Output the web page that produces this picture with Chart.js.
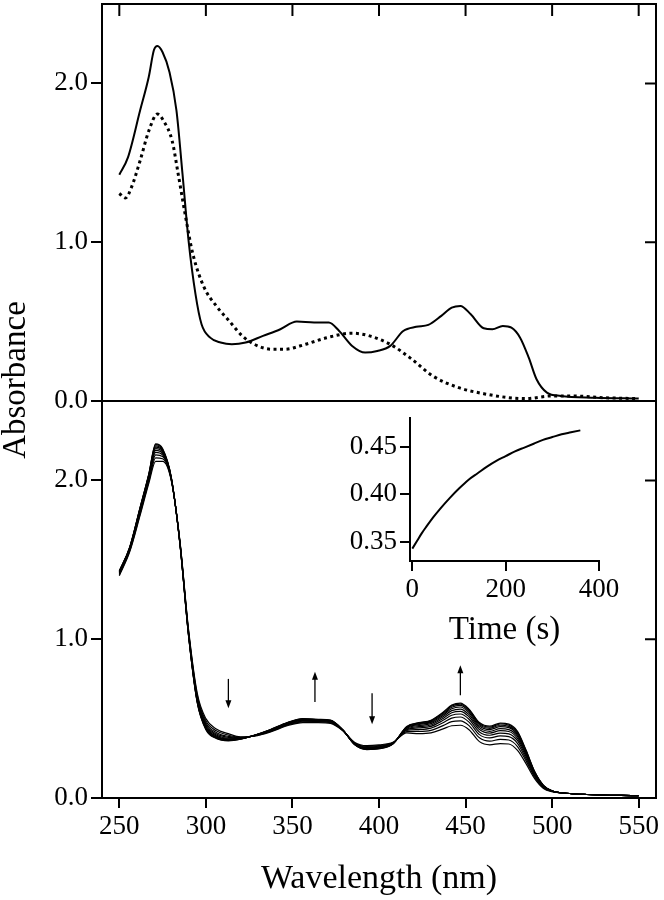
<!DOCTYPE html>
<html>
<head>
<meta charset="utf-8">
<title>Absorbance</title>
<script src="https://cdn.jsdelivr.net/npm/chart.js@4.4.1/dist/chart.umd.min.js"></script>
<style>
  body { margin: 0; background: #fff; }
  #wrap { position: relative; width: 664px; height: 900px; }
  #grafico { position: absolute; left: 0; top: 0; }
  #inset { position: absolute; left: 300px; top: 400px; }
</style>
</head>
<body>
<div id="wrap">
  <canvas id="grafico" width="664" height="900"></canvas>
  <canvas id="inset" width="330" height="260"></canvas>
</div>
<script>
// painel de cima: espectro final (linha cheia) e inicial (pontilhado)
const wlSolid = [250, 255, 262, 267, 270, 272, 275, 279, 283, 286.5, 290, 294, 297.5, 302.5, 308.5, 315, 323, 333, 343, 352.5, 362.5, 371, 377, 384.5, 392, 399, 406.5, 414, 421.5, 428.5, 436, 442, 447, 453, 460.5, 465.5, 471.5, 476.5, 481.5, 486.5, 491, 497, 505, 525, 550]
const absSolid = [1.425, 1.534, 1.829, 2.04, 2.21, 2.235, 2.196, 2.07, 1.83, 1.43, 1.01, 0.673, 0.483, 0.399, 0.368, 0.357, 0.368, 0.41, 0.452, 0.50, 0.494, 0.494, 0.441, 0.347, 0.305, 0.315, 0.347, 0.441, 0.467, 0.479, 0.536, 0.588, 0.599, 0.546, 0.458, 0.452, 0.473, 0.462, 0.399, 0.273, 0.137, 0.053, 0.032, 0.021, 0.015]

const wlDotted = [250, 253.5, 257, 262, 267, 272, 275.5, 280.5, 284, 288, 292.5, 299, 306, 313.5, 321, 328, 338, 345.5, 357.5, 370, 384.5, 394.5, 406.5, 419, 431, 446, 460.5, 475, 485, 500, 512, 529, 550]
const absDotted = [1.307, 1.278, 1.345, 1.513, 1.70, 1.807, 1.765, 1.639, 1.43, 1.177, 0.925, 0.715, 0.599, 0.504, 0.41, 0.357, 0.326, 0.326, 0.357, 0.399, 0.427, 0.41, 0.357, 0.263, 0.158, 0.084, 0.046, 0.021, 0.015, 0.032, 0.032, 0.021, 0.015]

// painel de baixo: espectros ao longo do tempo
const wlB = [250, 256, 262, 267, 271, 275, 280, 285, 290, 295, 300, 306, 313, 320, 328, 337, 347, 356, 365, 372, 379, 386, 393, 400, 408, 416, 423, 430, 437, 442, 447, 452, 458, 464, 470, 475, 480, 485, 490, 495, 500, 508, 520, 550]
const esp1 = [1.40, 1.55, 1.78, 1.98, 2.12, 2.12, 2.00, 1.62, 1.06, .66, .50, .435, .405, .385, .39, .415, .455, .475, .475, .47, .425, .35, .33, .335, .35, .41, .405, .41, .435, .455, .458, .43, .355, .335, .343, .34, .30, .215, .12, .06, .04, .03, .022, .015]
const esp2 = [1.406, 1.556, 1.79, 1.992, 2.142, 2.136, 2.004, 1.616, 1.052, .648, .486, .423, .396, .382, .391, .418, .459, .48, .479, .474, .426, .347, .325, .33, .348, .418, .419, .426, .456, .481, .486, .456, .379, .358, .369, .365, .324, .232, .129, .064, .041, .03, .022, .015]
const esp3 = [1.411, 1.561, 1.799, 2.002, 2.161, 2.15, 2.007, 1.613, 1.045, .638, .474, .413, .388, .379, .392, .421, .462, .484, .482, .477, .427, .344, .321, .326, .346, .425, .431, .44, .474, .503, .51, .478, .399, .378, .391, .386, .344, .246, .137, .067, .042, .03, .022, .015]
const esp4 = [1.415, 1.565, 1.806, 2.011, 2.176, 2.161, 2.01, 1.61, 1.04, .629, .464, .404, .382, .377, .393, .423, .465, .488, .485, .48, .428, .342, .317, .322, .345, .43, .441, .451, .489, .521, .529, .496, .416, .395, .409, .404, .361, .258, .143, .07, .043, .03, .022, .015]
const esp5 = [1.419, 1.569, 1.812, 2.018, 2.189, 2.17, 2.013, 1.607, 1.035, .622, .456, .397, .377, .376, .393, .424, .468, .491, .488, .483, .428, .341, .314, .319, .344, .435, .449, .46, .501, .537, .546, .512, .431, .409, .424, .419, .376, .269, .148, .073, .043, .03, .022, .015]
const esp6 = [1.422, 1.572, 1.817, 2.024, 2.20, 2.178, 2.015, 1.605, 1.031, .616, .449, .391, .372, .374, .394, .426, .47, .493, .49, .485, .429, .339, .312, .317, .343, .439, .456, .468, .512, .55, .56, .525, .443, .42, .437, .431, .388, .277, .153, .075, .044, .03, .022, .015]
const esp7 = [1.425, 1.575, 1.821, 2.029, 2.21, 2.186, 2.016, 1.604, 1.027, .611, .443, .386, .368, .373, .394, .427, .471, .496, .491, .486, .429, .338, .31, .315, .342, .443, .462, .476, .521, .562, .573, .537, .453, .431, .449, .443, .398, .285, .157, .076, .044, .03, .022, .015]
const esp8 = [1.427, 1.577, 1.825, 2.033, 2.218, 2.191, 2.018, 1.602, 1.024, .607, .438, .382, .365, .372, .394, .428, .473, .497, .493, .488, .429, .337, .308, .313, .341, .446, .467, .481, .528, .571, .583, .546, .462, .439, .458, .451, .407, .291, .16, .078, .044, .03, .022, .015]
const esp9 = [1.429, 1.579, 1.828, 2.037, 2.225, 2.196, 2.019, 1.601, 1.022, .603, .434, .378, .362, .371, .395, .429, .474, .499, .494, .489, .43, .336, .306, .311, .341, .448, .472, .486, .535, .579, .591, .554, .469, .446, .466, .459, .414, .296, .163, .079, .045, .03, .022, .015]
const esp10 = [1.43, 1.58, 1.83, 2.04, 2.23, 2.20, 2.02, 1.60, 1.02, .60, .43, .375, .36, .37, .395, .43, .475, .50, .495, .49, .43, .335, .305, .31, .34, .45, .475, .49, .54, .585, .598, .56, .475, .452, .472, .465, .42, .30, .165, .08, .045, .03, .022, .015]
const espectros = [esp1, esp2, esp3, esp4, esp5, esp6, esp7, esp8, esp9, esp10]

// setas (comprimento de onda, de, para)
const setaWl = [313, 363, 396, 447]
const setaDe = [0.75, 0.605, 0.66, 0.647]
const setaPara = [0.565, 0.795, 0.465, 0.836]

// inset: cinetica
const tempo = [0, 10, 20, 30, 45, 60, 80, 100, 120, 140, 160, 180, 200, 220, 240, 260, 280, 300, 320, 340, 360]
const absTempo = [0.343, 0.351, 0.359, 0.366, 0.376, 0.385, 0.396, 0.406, 0.415, 0.422, 0.429, 0.435, 0.440, 0.445, 0.449, 0.453, 0.457, 0.460, 0.463, 0.465, 0.467]

const xTicks = [250, 300, 350, 400, 450, 500, 550]
const yTicks = [0, 1, 2]
const insetXTicks = [0, 200, 400]
const insetYTicks = [0.35, 0.40, 0.45]

Chart.defaults.font.family = "'Liberation Serif', 'Times New Roman', serif"
Chart.defaults.color = '#000'

const pontos = (xs, ys) => xs.map((x, i) => ({ x: x, y: ys[i] }))

let datasets = []
espectros.forEach(esp => {
  datasets.push({
    data: pontos(wlB, esp), yAxisID: 'yBot',
    borderColor: '#000', borderWidth: 1.2, pointRadius: 0,
    cubicInterpolationMode: 'monotone'
  })
})
datasets.push({
  data: pontos(wlSolid, absSolid), yAxisID: 'yTop',
  borderColor: '#000', borderWidth: 2, pointRadius: 0,
  cubicInterpolationMode: 'monotone'
})
datasets.push({
  data: pontos(wlDotted, absDotted), yAxisID: 'yTop',
  borderColor: '#000', borderWidth: 3, borderDash: [3, 3.5], pointRadius: 0,
  cubicInterpolationMode: 'monotone'
})

function eixoY() {
  return {
    type: 'linear', position: 'left', stack: 'abs', min: 0, max: 2.5,
    afterBuildTicks: s => { s.ticks = yTicks.map(v => ({ value: v })) },
    afterFit: s => {
      s.width = 102
      s.paddingTop = 0
      s.paddingBottom = 0
    },
    grid: { display: true, drawOnChartArea: false, drawTicks: true, tickLength: 11, color: '#000', lineWidth: 2 },
    border: { display: true, color: '#000', width: 2 },
    ticks: { font: { size: 27 }, padding: 3, color: '#000', callback: v => v.toFixed(1) }
  }
}

const moldura = {
  id: 'moldura',
  afterDraw(chart) {
    const { ctx, chartArea: a, scales } = chart
    ctx.save()
    ctx.strokeStyle = '#000'
    ctx.fillStyle = '#000'
    ctx.lineWidth = 2
    ctx.beginPath()
    ctx.moveTo(a.left, a.top)
    ctx.lineTo(a.right, a.top)
    ctx.lineTo(a.right, a.bottom)
    const yDiv = scales.yTop.bottom
    ctx.moveTo(a.left, yDiv)
    ctx.lineTo(a.right, yDiv)
    xTicks.forEach(v => {
      const px = scales.x.getPixelForValue(v)
      ctx.moveTo(px, a.top)
      ctx.lineTo(px, a.top + 12)
    })
    ;[scales.yTop, scales.yBot].forEach(s => {
      yTicks.forEach(v => {
        const py = s.getPixelForValue(v)
        ctx.moveTo(a.right - 11, py)
        ctx.lineTo(a.right, py)
      })
    })
    ctx.stroke()

    ctx.lineWidth = 1.3
    setaWl.forEach((wl, i) => {
      const px = scales.x.getPixelForValue(wl)
      const y0 = scales.yBot.getPixelForValue(setaDe[i])
      const y1 = scales.yBot.getPixelForValue(setaPara[i])
      const dir = y1 > y0 ? 1 : -1
      ctx.beginPath()
      ctx.moveTo(px, y0)
      ctx.lineTo(px, y1 - dir * 6)
      ctx.stroke()
      ctx.beginPath()
      ctx.moveTo(px, y1)
      ctx.lineTo(px - 3, y1 - dir * 8)
      ctx.lineTo(px + 3, y1 - dir * 8)
      ctx.closePath()
      ctx.fill()
    })

    ctx.font = "33px 'Liberation Serif'"
    ctx.textAlign = 'center'
    ctx.textBaseline = 'middle'
    ctx.translate(16, 380)
    ctx.rotate(-Math.PI / 2)
    ctx.fillText('Absorbance', 0, 0)
    ctx.restore()
  }
}

new Chart(document.getElementById('grafico'), {
  type: 'line',
  data: { datasets: datasets },
  options: {
    responsive: false,
    animation: false,
    layout: { padding: { left: 0, right: 8, top: 4, bottom: 0 } },
    plugins: { legend: { display: false }, tooltip: { enabled: false } },
    scales: {
      x: {
        type: 'linear', min: 240, max: 560,
        afterBuildTicks: s => { s.ticks = xTicks.map(v => ({ value: v })) },
        afterFit: s => {
          s.height = 102
          s.paddingLeft = 0
          s.paddingRight = 0
        },
        grid: { display: true, drawOnChartArea: false, drawTicks: true, tickLength: 10, color: '#000', lineWidth: 2 },
        border: { display: true, color: '#000', width: 2 },
        ticks: { font: { size: 27 }, padding: 3, color: '#000', maxRotation: 0, autoSkip: false },
        title: { display: true, text: 'Wavelength (nm)', font: { size: 34 }, padding: { top: 0, bottom: 1 }, color: '#000' }
      },
      yBot: eixoY(),
      yTop: eixoY()
    }
  },
  plugins: [moldura]
})

new Chart(document.getElementById('inset'), {
  type: 'line',
  data: {
    datasets: [{
      data: pontos(tempo, absTempo),
      borderColor: '#000', borderWidth: 2, pointRadius: 0,
      cubicInterpolationMode: 'monotone'
    }]
  },
  options: {
    responsive: false,
    animation: false,
    layout: { padding: { left: 0, right: 31, top: 18, bottom: 0 } },
    plugins: { legend: { display: false }, tooltip: { enabled: false } },
    scales: {
      x: {
        type: 'linear', min: -5, max: 400,
        afterBuildTicks: s => { s.ticks = insetXTicks.map(v => ({ value: v })) },
        afterFit: s => {
          s.height = 99
          s.paddingLeft = 0
          s.paddingRight = 0
        },
        grid: { display: true, drawOnChartArea: false, drawTicks: true, tickLength: 10, color: '#000', lineWidth: 2 },
        border: { display: true, color: '#000', width: 2 },
        ticks: { font: { size: 27 }, padding: 3, color: '#000', maxRotation: 0, autoSkip: false },
        title: { display: true, text: 'Time (s)', font: { size: 33 }, padding: { top: 0, bottom: 10 }, color: '#000' }
      },
      y: {
        type: 'linear', min: 0.33, max: 0.48,
        afterBuildTicks: s => { s.ticks = insetYTicks.map(v => ({ value: v })) },
        afterFit: s => {
          s.width = 110
          s.paddingTop = 0
          s.paddingBottom = 0
        },
        grid: { display: true, drawOnChartArea: false, drawTicks: true, tickLength: 10, color: '#000', lineWidth: 2 },
        border: { display: true, color: '#000', width: 2 },
        ticks: { font: { size: 27 }, padding: 3, color: '#000', callback: v => v.toFixed(2) }
      }
    }
  }
})
</script>
</body>
</html>
